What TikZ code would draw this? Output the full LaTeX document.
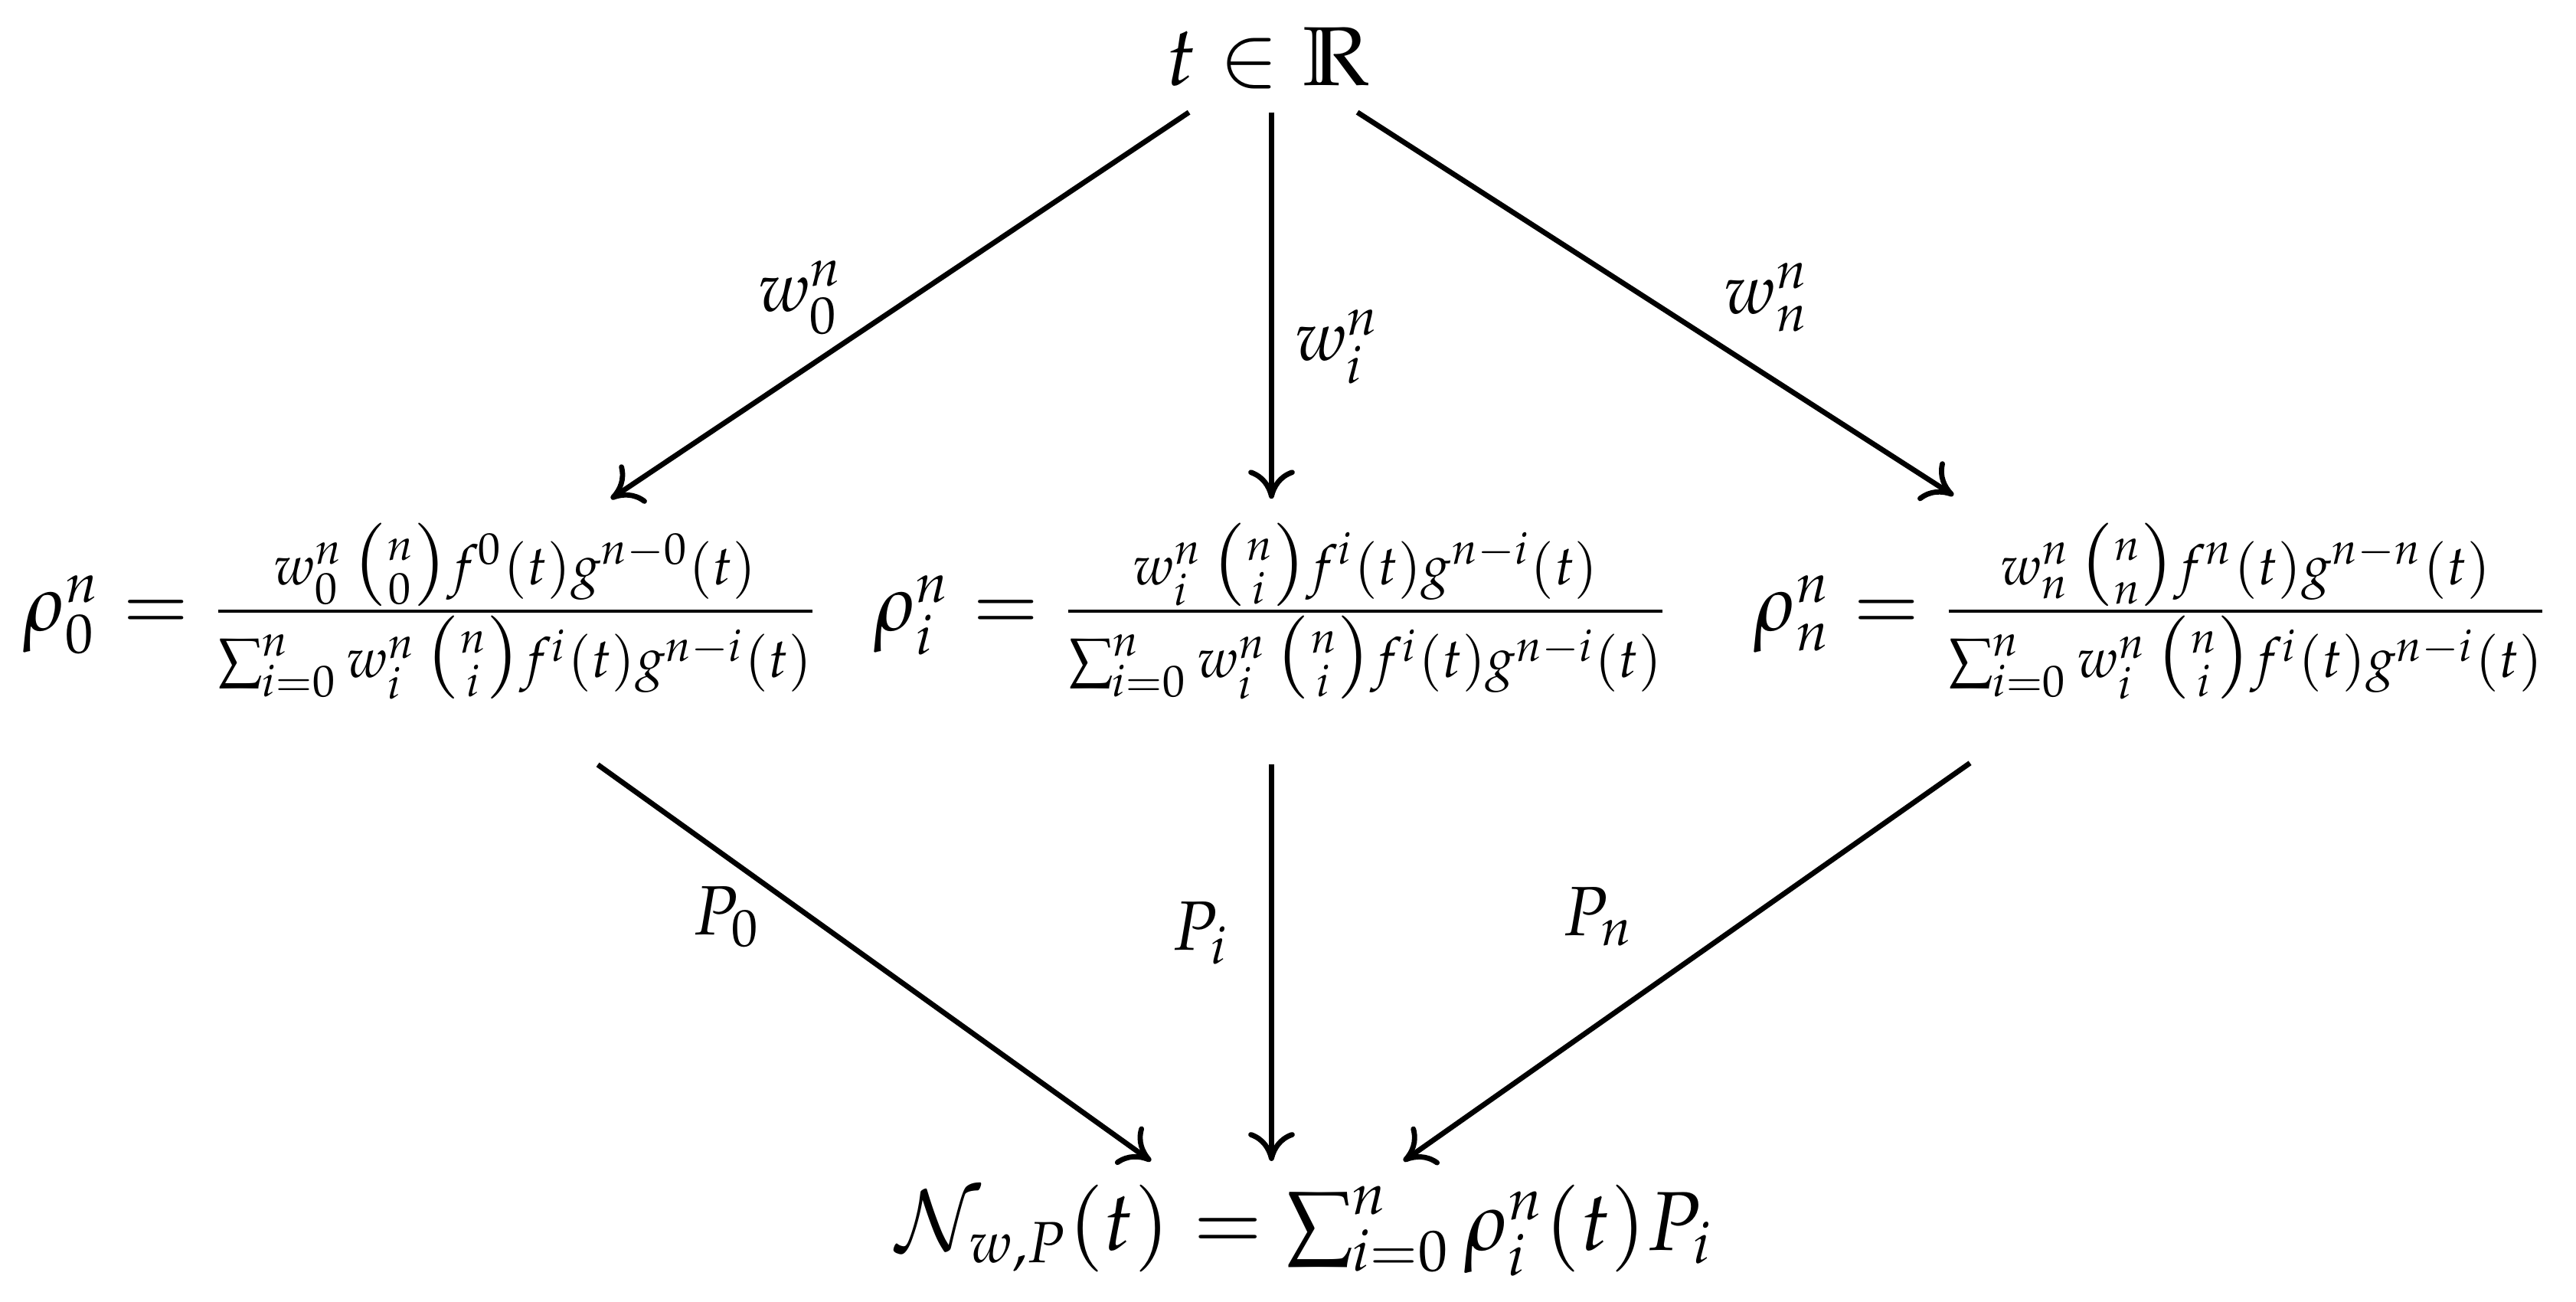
\documentclass[tikz,border=0pt]{standalone}
\usepackage{amsmath,amssymb}
\usepackage{mathpazo}
\usetikzlibrary{arrows.meta}
\begin{document}
\begin{tikzpicture}[x=0.01cm,y=-0.01cm,
  arr/.style={-{To[length=5pt,width=8pt]},line width=0.9pt},
  lab/.style={inner sep=0pt},
  frm/.style={scale=0.955,transform shape}]
\useasboundingbox (0,0) rectangle (1560,788);
\node (t) at (768,35) {\Large $t\in\mathbb{R}$};
\node[frm] (r0) at (255,370) {\Large $\rho_0^n=\frac{w_0^n\,\binom{n}{0}f^0(t)g^{n-0}(t)}{\sum_{i=0}^n w_i^n\,\binom{n}{i}f^i(t)g^{n-i}(t)}$};
\node[frm] (ri) at (770,370) {\Large $\rho_i^n=\frac{w_i^n\,\binom{n}{i}f^i(t)g^{n-i}(t)}{\sum_{i=0}^n w_i^n\,\binom{n}{i}f^i(t)g^{n-i}(t)}$};
\node[frm] (rn) at (1303,370) {\Large $\rho_n^n=\frac{w_n^n\,\binom{n}{n}f^n(t)g^{n-n}(t)}{\sum_{i=0}^n w_i^n\,\binom{n}{i}f^i(t)g^{n-i}(t)}$};
\node (N) at (790,745) {\Large $\mathcal{N}_{w,P}(t)=\sum_{i=0}^n\rho_i^n(t)P_i$};
\coordinate (a1) at (720,68); \coordinate (b1) at (370,302);
\coordinate (a2) at (770,68); \coordinate (b2) at (770,302);
\coordinate (a3) at (822,68); \coordinate (b3) at (1183,300);
\coordinate (c1) at (362,463); \coordinate (d1) at (697,703);
\coordinate (c2) at (770,463); \coordinate (d2) at (770,703);
\coordinate (c3) at (1193,462); \coordinate (d3) at (850,703);
\draw[arr] (a1) -- (b1);
\draw[arr] (a2) -- (b2);
\draw[arr] (a3) -- (b3);
\draw[arr] (c1) -- (d1);
\draw[arr] (c2) -- (d2);
\draw[arr] (c3) -- (d3);
\node[lab] (l1) at (485,180) {\large $w_0^n$};
\node[lab] (l2) at (810,210) {\large $w_i^n$};
\node[lab] (l3) at (1070,180) {\large $w_n^n$};
\node[lab] (l4) at (440,555) {\large $P_0$};
\node[lab] (l5) at (727,565) {\large $P_i$};
\node[lab] (l6) at (968,555) {\large $P_n$};
\end{tikzpicture}
\end{document}
